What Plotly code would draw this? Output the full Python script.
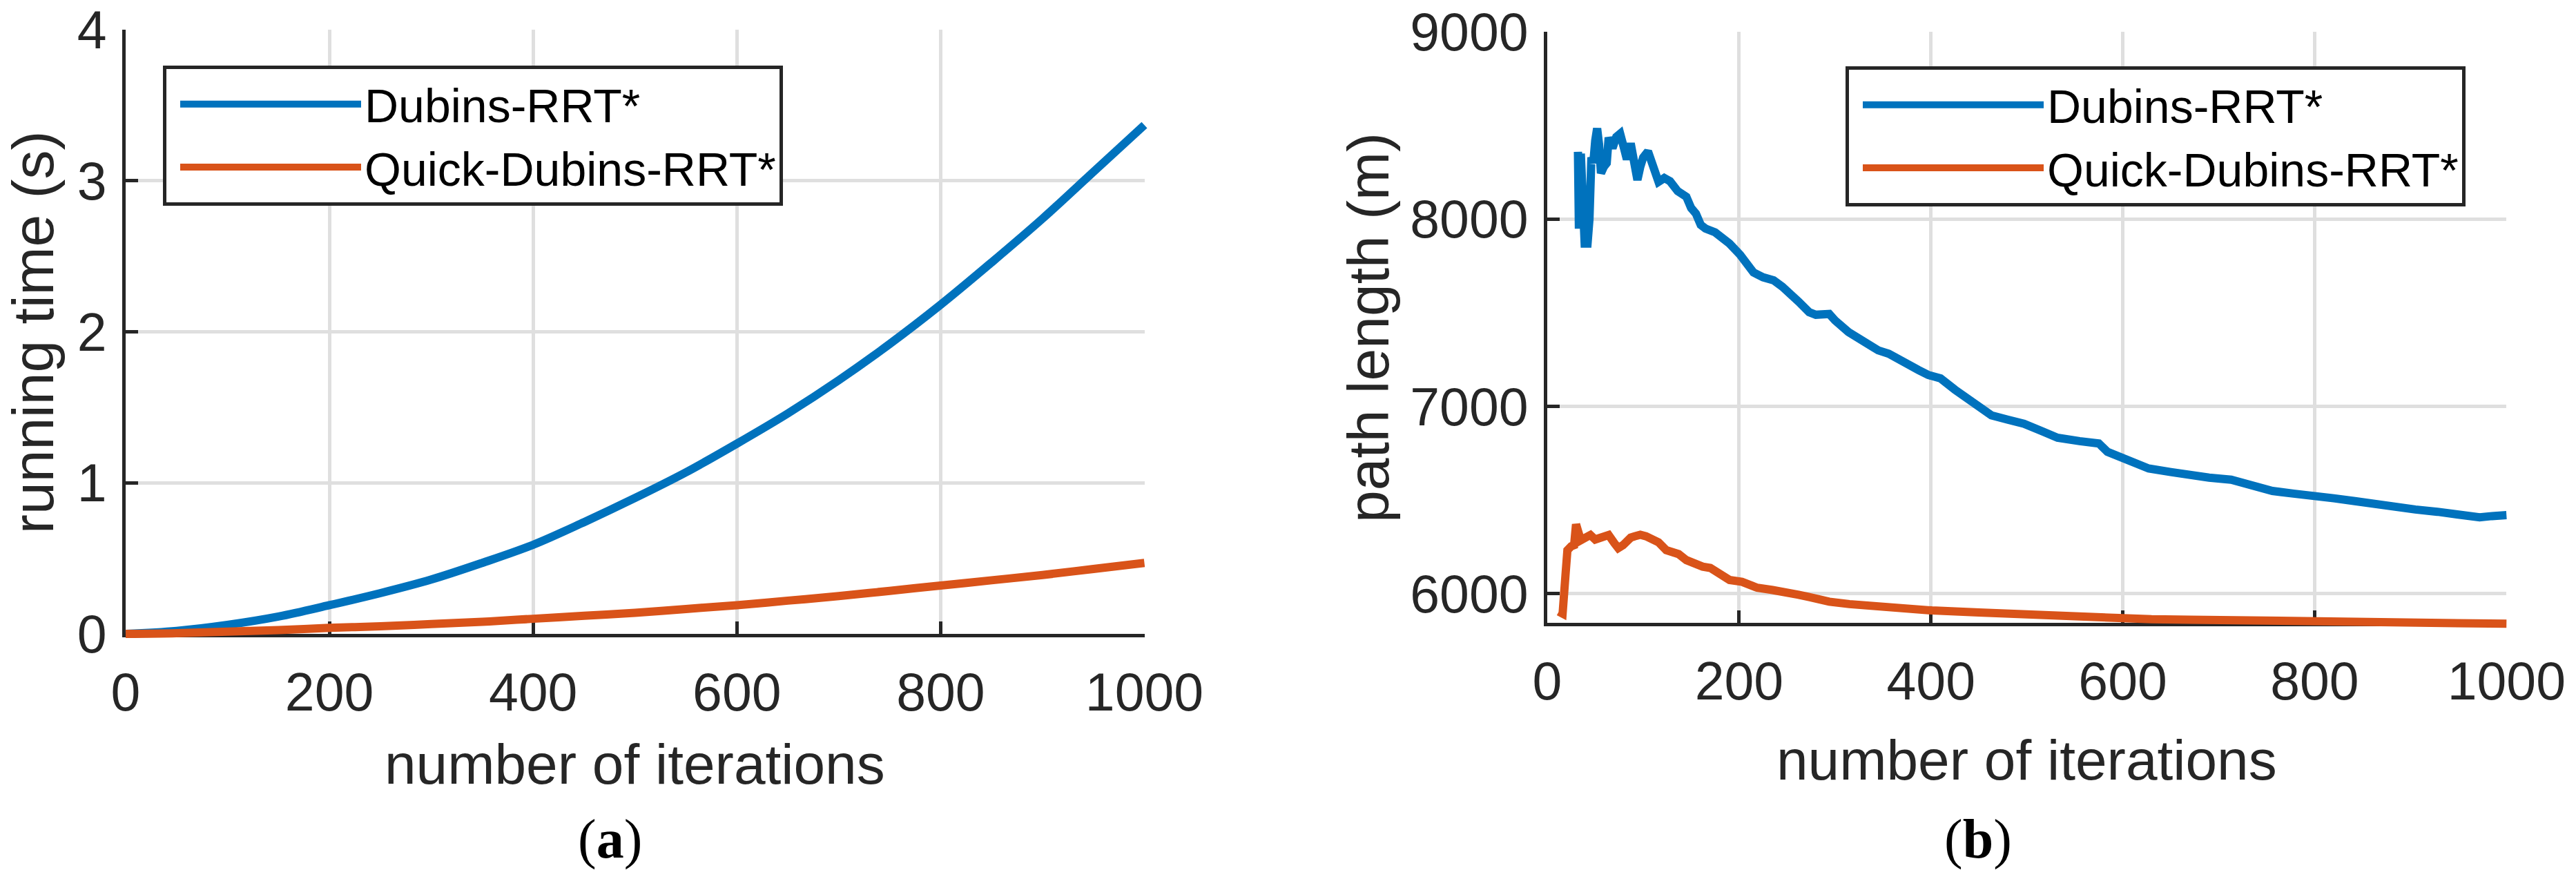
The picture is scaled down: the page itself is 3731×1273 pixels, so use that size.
import plotly.graph_objects as go

W, H = 3731, 1273

# ---------------- data ----------------
iters_a = [0, 50, 100, 150, 200, 250, 300, 350, 400, 450, 500,
           550, 600, 650, 700, 750, 800, 850, 900, 950, 1000]
time_dubins = [0.0, 0.02, 0.06, 0.115, 0.19, 0.27, 0.36, 0.47, 0.59, 0.74, 0.90,
               1.07, 1.26, 1.46, 1.68, 1.92, 2.18, 2.46, 2.75, 3.06, 3.37]
time_quick = [0.0, 0.005, 0.015, 0.025, 0.04, 0.05, 0.065, 0.08, 0.10, 0.12, 0.14,
              0.165, 0.19, 0.22, 0.25, 0.285, 0.32, 0.355, 0.39, 0.43, 0.47]

iters_b_dubins = [32, 33, 35, 37, 39, 42, 44, 46, 48, 50, 52, 54, 56, 59, 62, 64, 68, 72,
                  76, 80, 83, 87, 90, 94, 97, 100, 105, 110, 116, 122, 128, 136, 145,
                  150, 155, 160, 165, 175, 182, 190, 201, 210, 215, 225, 236, 245, 252,
                  262, 273, 280, 294, 300, 314, 325, 335, 345, 356, 366, 376, 387, 397,
                  410, 425, 437, 450, 463, 480, 497, 515, 532, 555, 575, 584, 605, 627,
                  650, 670, 690, 713, 735, 756, 778, 799, 820, 842, 865, 885, 905, 928,
                  950, 972, 985, 1000]
length_dubins = [8360, 7950, 8350, 7900, 7870, 7870, 8000, 8330, 8300, 8420, 8485, 8400,
                 8246, 8280, 8300, 8436, 8380, 8440, 8457, 8380, 8320, 8405, 8330, 8210,
                 8280, 8330, 8362, 8300, 8200, 8220, 8203, 8150, 8120, 8060, 8030, 7970,
                 7950, 7930, 7907, 7870, 7811, 7760, 7716, 7690, 7674, 7640, 7610, 7560,
                 7504, 7490, 7494, 7460, 7398, 7360, 7335, 7300, 7282, 7250, 7229, 7195,
                 7169, 7150, 7090, 7043, 7000, 6953, 6930, 6908, 6870, 6833, 6815, 6803,
                 6758, 6710, 6669, 6650, 6630, 6620, 6609, 6575, 6549, 6535, 6528, 6510,
                 6495, 6475, 6459, 6450, 6438, 6420, 6408, 6415, 6420]

iters_b_quick = [12, 16, 19, 21, 25, 28, 30, 33, 35, 40, 45, 50, 54, 60, 64, 70, 74, 79,
                 83, 87, 91, 97, 103, 110, 116, 124, 130, 137, 145, 153, 162, 170, 180,
                 190, 203, 212, 219, 235, 252, 262, 273, 285, 294, 315, 335, 356, 376,
                 401, 450, 497, 540, 584, 630, 670, 715, 756, 800, 842, 900, 950, 1000]
length_quick = [5905, 5894, 6100, 6233, 6254, 6260, 6371, 6330, 6286, 6300, 6314, 6290,
                6297, 6300, 6314, 6270, 6244, 6260, 6286, 6300, 6307, 6315, 6307, 6290,
                6275, 6233, 6220, 6212, 6180, 6159, 6145, 6138, 6100, 6074, 6064, 6045,
                6032, 6020, 6011, 5995, 5983, 5968, 5958, 5945, 5936, 5926, 5919, 5911,
                5900, 5889, 5876, 5868, 5864, 5862, 5858, 5856, 5853, 5850, 5846, 5843,
                5840]

x_ticks = [0, 200, 400, 600, 800, 1000]
ya_ticks = [0, 1, 2, 3, 4]
yb_ticks = [6000, 7000, 8000, 9000]
xa_range = [0, 1000]
ya_range = [0, 4]
xb_range = [0, 1000]
yb_range = [5845, 9000]

series_names = ["Dubins-RRT*", "Quick-Dubins-RRT*"]
colors = ["#0072BD", "#D95319"]

# ---------------- layout geometry (pixels) ----------------
A_L, A_R, A_T, A_B = 182, 1657.5, 43.3, 918
B_L, B_R, B_T, B_B = 2241, 3630.3, 46.3, 902
PAD = 24  # extra room so thick lines are not clipped at the axes

FONT = "Liberation Sans, Arial, Helvetica, sans-serif"
AXC = "#262626"
GRID = "#dfdfdf"


def xdom(l, r):
    return [l / W, r / W]


def ydom(t, b):
    return [1 - b / H, 1 - t / H]


def ext_range(rng, lo_px, hi_px, pad):
    span = rng[1] - rng[0]
    per_px = span / (hi_px - lo_px)
    return [rng[0] - pad * per_px, rng[1] + pad * per_px]


def main_axis(dom, rng, ticks, anchor, standoff):
    return dict(domain=dom, range=rng, tickvals=ticks, anchor=anchor,
                automargin=False, tickangle=0,
                showgrid=True, gridcolor=GRID, gridwidth=5,
                showline=True, linecolor=AXC, linewidth=5,
                ticks="inside", ticklen=18, tickwidth=5, tickcolor=AXC,
                tickfont=dict(family=FONT, size=77, color=AXC),
                ticklabelstandoff=standoff,
                zeroline=False, fixedrange=True)


def overlay_axis(dom, rng, anchor):
    return dict(domain=dom, range=rng, anchor=anchor, visible=False,
                automargin=False,
                showgrid=False, zeroline=False, fixedrange=True)


fig = go.Figure()

# invisible anchors so the main axes are drawn
fig.add_trace(go.Scatter(x=[0], y=[0], mode="markers", marker=dict(opacity=0),
                         xaxis="x", yaxis="y", showlegend=False, hoverinfo="skip"))
fig.add_trace(go.Scatter(x=[0], y=[6000], mode="markers", marker=dict(opacity=0),
                         xaxis="x2", yaxis="y2", showlegend=False, hoverinfo="skip"))

# (a) running time
fig.add_trace(go.Scatter(x=iters_a, y=time_dubins, mode="lines", name=series_names[0],
                         line=dict(color=colors[0], width=12, shape="spline"),
                         xaxis="x3", yaxis="y3", legend="legend"))
fig.add_trace(go.Scatter(x=iters_a, y=time_quick, mode="lines", name=series_names[1],
                         line=dict(color=colors[1], width=12, shape="spline"),
                         xaxis="x3", yaxis="y3", legend="legend"))

# (b) path length
fig.add_trace(go.Scatter(x=iters_b_dubins, y=length_dubins, mode="lines", name=series_names[0],
                         line=dict(color=colors[0], width=12),
                         xaxis="x4", yaxis="y4", legend="legend2"))
fig.add_trace(go.Scatter(x=iters_b_quick, y=length_quick, mode="lines", name=series_names[1],
                         line=dict(color=colors[1], width=12),
                         xaxis="x4", yaxis="y4", legend="legend2"))

legend_common = dict(xanchor="left", yanchor="top", bgcolor="white",
                     bordercolor=AXC, borderwidth=5,
                     font=dict(family=FONT, size=68, color="black"),
                     itemwidth=262, indentation=15, tracegroupgap=0)

fig.update_layout(
    template="none",
    width=W, height=H,
    margin=dict(l=0, r=0, t=0, b=0, pad=0, autoexpand=False),
    paper_bgcolor="white",
    plot_bgcolor="rgba(0,0,0,0)",
    xaxis=main_axis(xdom(A_L, A_R), xa_range, x_ticks, "y", 14),
    yaxis=main_axis(ydom(A_T, A_B), ya_range, ya_ticks, "x", 7),
    xaxis2=main_axis(xdom(B_L, B_R), xb_range, x_ticks, "y2", 14),
    yaxis2=main_axis(ydom(B_T, B_B), yb_range, yb_ticks, "x2", 7),
    xaxis3=overlay_axis(xdom(A_L - PAD, A_R + PAD), ext_range(xa_range, A_L, A_R, PAD), "y3"),
    yaxis3=overlay_axis(ydom(A_T - PAD, A_B + PAD), ext_range(ya_range, A_T, A_B, PAD), "x3"),
    xaxis4=overlay_axis(xdom(B_L - PAD, B_R + PAD), ext_range(xb_range, B_L, B_R, PAD), "y4"),
    yaxis4=overlay_axis(ydom(B_T - PAD, B_B + PAD), ext_range(yb_range, B_T, B_B, PAD), "x4"),
    legend=dict(x=236 / W, y=1 - 95 / H, **legend_common),
    legend2=dict(x=2673 / W, y=1 - 96 / H, **legend_common),
    showlegend=True,
)

title_font = dict(family=FONT, size=82, color=AXC)
ytitle_font = dict(family=FONT, size=84, color=AXC)
serif_font = dict(family="Liberation Serif, Times New Roman, serif", size=80, color="black")
ann = [
    dict(text="running time (s)", x=48 / W, y=1 - 481 / H, textangle=-90, font=ytitle_font),
    dict(text="path length (m)", x=1982 / W, y=1 - 475 / H, textangle=-90, font=ytitle_font),
    dict(text="number of iterations", x=(A_L + A_R) / 2 / W, y=1 - 1106 / H, font=title_font),
    dict(text="number of iterations", x=(B_L + B_R) / 2 / W, y=1 - 1100 / H, font=title_font),
    dict(text="(<b>a</b>)", x=883 / W, y=1 - 1215 / H, font=serif_font),
    dict(text="(<b>b</b>)", x=2865 / W, y=1 - 1215 / H, font=serif_font),
]
for a in ann:
    a.update(xref="paper", yref="paper", xanchor="center", yanchor="middle",
             showarrow=False)
fig.update_layout(annotations=ann)

fig.write_html("out.html")
